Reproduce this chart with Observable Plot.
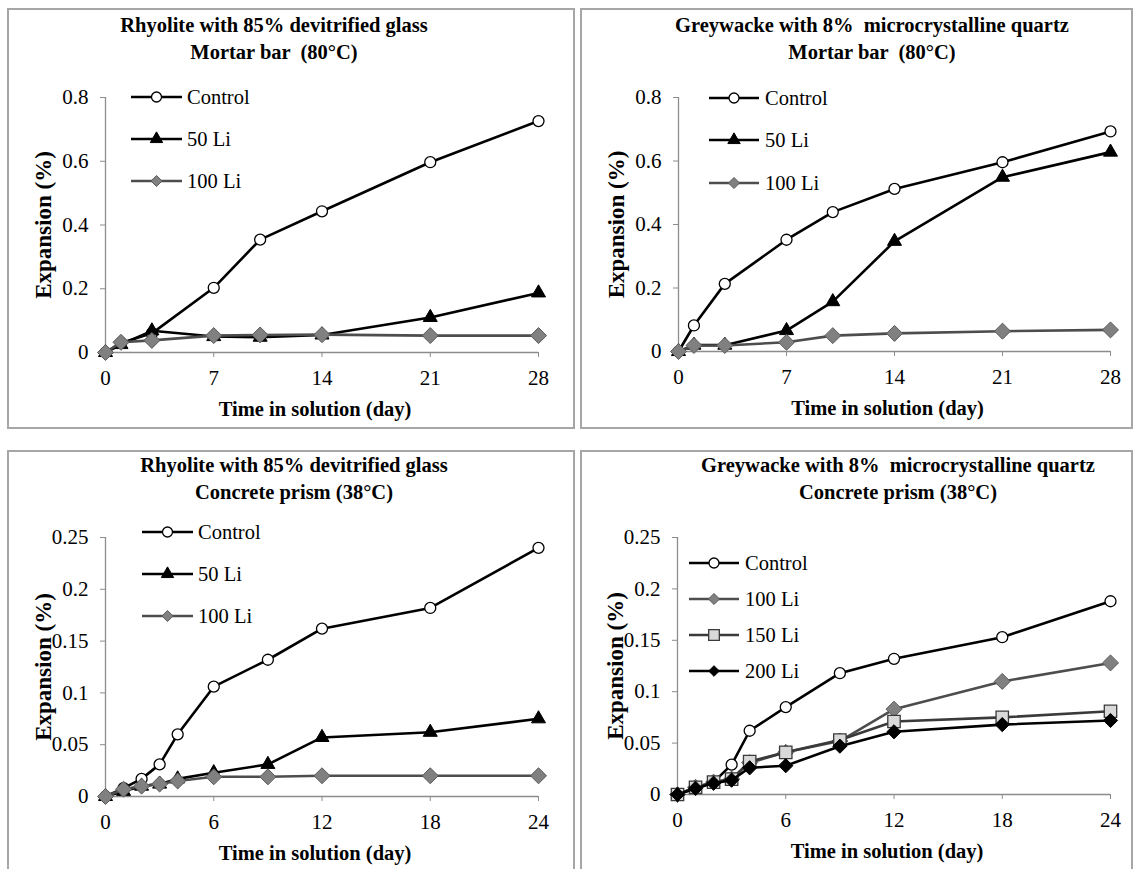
<!DOCTYPE html>
<html><head><meta charset="utf-8">
<script src="https://cdn.jsdelivr.net/npm/d3@7"></script>
<script src="https://cdn.jsdelivr.net/npm/@observablehq/plot@0.6"></script>
<style>
body{margin:0;background:#fff;}
#root{position:relative;width:1135px;height:869px;overflow:hidden;font-family:"Liberation Serif","Times New Roman",Times,"DejaVu Serif",serif;}
.box{position:absolute;border:2px solid #a6a6a6;box-sizing:border-box;}
.title{position:absolute;width:600px;font-weight:bold;font-size:20.5px;line-height:27px;text-align:center;white-space:pre;color:#000;}
.chart{position:absolute;}
</style></head><body><div id="root"></div>
<script>
// ---------- data ----------
const mortarDays = [0, 1, 3, 7, 10, 14, 21, 28];
const prismDays  = [0, 1, 2, 3, 4, 6, 9, 12, 18, 24];
const mortarXTicks = [0, 7, 14, 21, 28];
const prismXTicks  = [0, 6, 12, 18, 24];
const mortarYTicks = [0, 0.2, 0.4, 0.6, 0.8];
const mortarYTickLabels = ["0", "0.2", "0.4", "0.6", "0.8"];
const prismYTicks  = [0, 0.05, 0.1, 0.15, 0.2, 0.25];
const prismYTickLabels = ["0", "0.05", "0.1", "0.15", "0.2", "0.25"];

const rhyMortarSeries  = ["Control", "50 Li", "100 Li"];
const rhyMortarControl = [0, 0.03, 0.06, 0.203, 0.354, 0.443, 0.597, 0.726];
const rhyMortar50Li    = [0, 0.025, 0.068, 0.05, 0.048, 0.055, 0.11, 0.187];
const rhyMortar100Li   = [0, 0.032, 0.038, 0.053, 0.055, 0.056, 0.053, 0.053];

const greyMortarSeries  = ["Control", "50 Li", "100 Li"];
const greyMortarControl = [0, 0.082, 0.213, 0.352, 0.439, 0.512, 0.596, 0.693];
const greyMortar50Li    = [0, 0.02, 0.02, 0.066, 0.157, 0.347, 0.549, 0.628];
const greyMortar100Li   = [0, 0.019, 0.019, 0.029, 0.05, 0.057, 0.064, 0.068];

const rhyPrismSeries  = ["Control", "50 Li", "100 Li"];
const rhyPrismControl = [0, 0.008, 0.017, 0.031, 0.06, 0.106, 0.132, 0.162, 0.182, 0.240];
const rhyPrism50Li    = [0, 0.005, 0.01, 0.012, 0.017, 0.023, 0.031, 0.057, 0.062, 0.075];
const rhyPrism100Li   = [0, 0.007, 0.01, 0.012, 0.015, 0.019, 0.019, 0.02, 0.02, 0.02];

const greyPrismSeries  = ["Control", "100 Li", "150 Li", "200 Li"];
const greyPrismControl = [0, 0.006, 0.012, 0.029, 0.062, 0.085, 0.118, 0.132, 0.153, 0.188];
const greyPrism100Li   = [0, 0.007, 0.012, 0.015, 0.031, 0.041, 0.052, 0.083, 0.110, 0.128];
const greyPrism150Li   = [0, 0.007, 0.012, 0.015, 0.032, 0.041, 0.053, 0.071, 0.075, 0.081];
const greyPrism200Li   = [0, 0.006, 0.011, 0.014, 0.026, 0.028, 0.047, 0.061, 0.068, 0.072];

const xTitle = "Time in solution (day)";
const yTitle = "Expansion (%)";

// ---------- styles ----------
const FONT = '"Liberation Serif","Times New Roman",Times,"DejaVu Serif",serif';
const styles = {
  "Control": {symbol: "circle",   r: 5.5, lr: 5,   fill: "#ffffff", stroke: "#000000", line: "#000000", sw: 1.3},
  "50 Li":   {symbol: "triangle", r: 5.2, lr: 4.6, fill: "#000000", stroke: "#000000", line: "#000000", sw: 1},
  "100 Li":  {symbol: "diamond2", r: 7.2, lr: 5,   fill: "#808080", stroke: "#5a5a5a", line: "#4d4d4d", sw: 1},
  "150 Li":  {symbol: "square",   r: 7,   lr: 6,   fill: "#d9d9d9", stroke: "#3a3a3a", line: "#3a3a3a", sw: 1.3},
  "200 Li":  {symbol: "diamond2", r: 6.4, lr: 4.8, fill: "#000000", stroke: "#000000", line: "#000000", sw: 1}
};
const symbolMap = {circle: d3.symbolCircle, triangle: d3.symbolTriangle, diamond2: d3.symbolDiamond2, square: d3.symbolSquare};

const panels = [
  {title: ["Rhyolite with 85% devitrified glass", "Mortar bar  (80°C)"], tx: 274, ty: 12,
   box: [7, 8, 568, 421], m: [89, 37, 77, 98], days: mortarDays, xTicks: mortarXTicks, yTicks: mortarYTicks, yLabels: mortarYTickLabels,
   names: rhyMortarSeries, values: [rhyMortarControl, rhyMortar50Li, rhyMortar100Li],
   leg: {x1: 131, x2: 182, tx: 187, ys: [97, 139, 181]}},
  {title: ["Greywacke with 8%  microcrystalline quartz", "Mortar bar  (80°C)"], tx: 872, ty: 12,
   box: [580, 8, 553, 421], m: [89, 23, 78, 98], days: mortarDays, xTicks: mortarXTicks, yTicks: mortarYTicks, yLabels: mortarYTickLabels,
   names: greyMortarSeries, values: [greyMortarControl, greyMortar50Li, greyMortar100Li],
   leg: {x1: 709, x2: 759, tx: 765, ys: [98, 140, 183]}},
  {title: ["Rhyolite with 85% devitrified glass", "Concrete prism (38°C)"], tx: 294, ty: 452,
   box: [7, 450, 568, 419], m: [87, 37, 73, 98], days: prismDays, xTicks: prismXTicks, yTicks: prismYTicks, yLabels: prismYTickLabels,
   names: rhyPrismSeries, values: [rhyPrismControl, rhyPrism50Li, rhyPrism100Li],
   leg: {x1: 142, x2: 193, tx: 198, ys: [532, 574, 616]}},
  {title: ["Greywacke with 8%  microcrystalline quartz", "Concrete prism (38°C)"], tx: 898, ty: 452,
   box: [580, 450, 553, 419], m: [87, 23, 75, 97], days: prismDays, xTicks: prismXTicks, yTicks: prismYTicks, yLabels: prismYTickLabels,
   names: greyPrismSeries, values: [greyPrismControl, greyPrism100Li, greyPrism150Li, greyPrism200Li],
   leg: {x1: 689, x2: 739, tx: 745, ys: [563, 599, 635, 671]}}
];

const root = document.getElementById("root");

for (const p of panels) {
  const [bx, by, bw, bh] = p.box;
  const border = document.createElement("div");
  border.className = "box";
  Object.assign(border.style, {left: bx + "px", top: by + "px", width: bw + "px", height: (bh + (by > 400 ? 10 : 0)) + "px"});
  root.appendChild(border);

  const marks = [
    Plot.ruleX([0], {stroke: "#8c8c8c", strokeWidth: 1.3}),
    Plot.ruleY([0], {stroke: "#8c8c8c", strokeWidth: 1.3}),
    Plot.axisY(p.yTicks, {tickSize: 5, tickPadding: 12, stroke: "#8c8c8c", fill: "#000", fontSize: 21, label: null,
      tickFormat: (d) => p.yLabels[p.yTicks.indexOf(d)]}),
    Plot.axisX(p.xTicks, {tickSize: 5, tickPadding: 13, stroke: "#8c8c8c", fill: "#000", fontSize: 21, label: null,
      tickFormat: (d) => String(d)}),
    Plot.text([xTitle], {frameAnchor: "bottom", dx: -7, dy: 57, lineAnchor: "middle", fontWeight: "bold", fontSize: 20.5, fill: "#000"}),
    Plot.text([yTitle], {frameAnchor: "left", dx: -62, rotate: -90, textAnchor: "middle", lineAnchor: "middle", fontWeight: "bold", fontSize: 23, fill: "#000"})
  ];
  p.names.forEach((name, k) => {
    const s = styles[name];
    const rows = p.days.map((d, i) => ({day: d, value: p.values[k][i], series: name}));
    marks.push(Plot.line(rows, {x: "day", y: "value", stroke: s.line, strokeWidth: 2.6}));
    marks.push(Plot.dot(rows, {x: "day", y: "value", symbol: s.symbol, r: s.r, fill: s.fill, stroke: s.stroke, strokeWidth: s.sw}));
  });

  const chart = Plot.plot({
    width: bw, height: bh,
    marginTop: p.m[0], marginRight: p.m[1], marginBottom: p.m[2], marginLeft: p.m[3],
    x: {domain: [p.xTicks[0], p.xTicks[p.xTicks.length - 1]]},
    y: {domain: [p.yTicks[0], p.yTicks[p.yTicks.length - 1]]},
    style: {fontFamily: FONT, fontSize: "18px", color: "#000", background: "transparent", overflow: "visible"},
    marks
  });
  chart.classList.add("chart");
  chart.style.left = bx + "px";
  chart.style.top = by + "px";
  root.appendChild(chart);

  // legend
  const g = d3.select(chart).append("g").attr("aria-label", "legend");
  p.names.forEach((name, i) => {
    const s = styles[name];
    const y = p.leg.ys[i] - by;
    const x1 = p.leg.x1 - bx, x2 = p.leg.x2 - bx, xm = (x1 + x2) / 2;
    g.append("line").attr("x1", x1).attr("x2", x2).attr("y1", y).attr("y2", y)
      .attr("stroke", s.line).attr("stroke-width", 2.6);
    if (s.symbol === "circle") {
      g.append("circle").attr("cx", xm).attr("cy", y).attr("r", s.lr)
        .attr("fill", s.fill).attr("stroke", s.stroke).attr("stroke-width", s.sw);
    } else {
      g.append("path").attr("transform", `translate(${xm},${y})`)
        .attr("d", d3.symbol(symbolMap[s.symbol], Math.PI * s.lr * s.lr)())
        .attr("fill", s.fill).attr("stroke", s.stroke).attr("stroke-width", s.sw);
    }
    g.append("text").attr("x", p.leg.tx - bx).attr("y", y).attr("dy", "0.35em")
      .attr("text-anchor", "start").attr("font-size", 20.5).attr("fill", "#000").text(name);
  });

  const t = document.createElement("div");
  t.className = "title";
  const l1 = document.createElement("div");
  l1.textContent = p.title[0];
  const l2 = document.createElement("div");
  l2.textContent = p.title[1];
  t.appendChild(l1); t.appendChild(l2);
  t.style.left = (p.tx - 300) + "px";
  t.style.top = p.ty + "px";
  root.appendChild(t);
}
</script></body></html>
